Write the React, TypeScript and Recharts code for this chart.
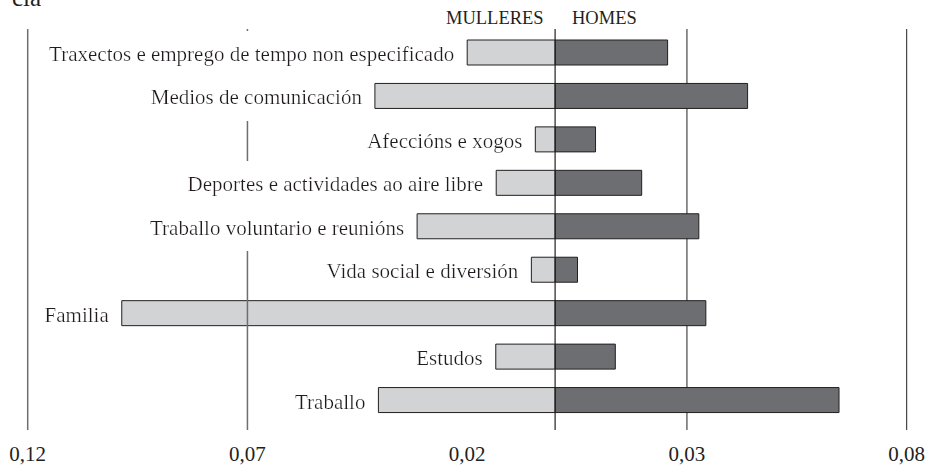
import React from 'react'
import { Bar, BarChart, LabelList, ReferenceLine, XAxis, YAxis } from 'recharts'

const categories = [
  'Traxectos e emprego de tempo non especificado',
  'Medios de comunicación',
  'Afeccións e xogos',
  'Deportes e actividades ao aire libre',
  'Traballo voluntario e reunións',
  'Vida social e diversión',
  'Familia',
  'Estudos',
  'Traballo',
]
const mulleres = [0.02, 0.041, 0.0045, 0.0134, 0.0314, 0.0054, 0.0986, 0.0135, 0.0402]
const homes = [0.0256, 0.0438, 0.0092, 0.0197, 0.0327, 0.0051, 0.0343, 0.0137, 0.0646]
const xTicks = [-0.12, -0.07, -0.02, 0.03, 0.08]
const linesBehind = [0.03, 0.08]
const linesFront = [-0.12, -0.07, 0]

const FONT = 'Liberation Serif'
const INK = '#231f20'

const data = categories.map((name, i) => ({ name, mulleres: -mulleres[i], homes: homes[i] }))

// category name to the left of the women's bar, on a white box
function CategoryLabel(props: any) {
  const vb = props.viewBox && props.viewBox.width !== undefined ? props.viewBox : props
  const x = Number(vb.x)
  const w = Number(vb.width)
  const y = Number(vb.y)
  const h = Number(vb.height)
  const left = Math.min(x, x + w)
  const cy = y + h / 2
  const id = `lbg${props.index}`
  return (
    <g>
      <defs>
        <filter id={id} x="-0.015" y="-0.45" width="1.03" height="1.9">
          <feFlood floodColor="#fff" />
          <feComposite in="SourceGraphic" operator="over" />
        </filter>
      </defs>
      <text
        x={left - 13}
        y={cy + 8.5}
        textAnchor="end"
        fontSize={21}
        fill={INK}
        filter={`url(#${id})`}
        style={{ fontFamily: FONT }}
      >
        {props.value}
      </text>
    </g>
  )
}

export default function App() {
  return (
    <div style={{ position: 'relative', width: 931, height: 468, background: '#fff' }}>
      <style>{'body{margin:0;overflow:hidden;}'}</style>
      <BarChart
        width={931}
        height={468}
        data={data}
        layout="vertical"
        stackOffset="sign"
        margin={{ top: 29, right: 24.3, left: 27.7, bottom: 8 }}
      >
        <XAxis
          type="number"
          domain={[-0.12, 0.08]}
          ticks={xTicks}
          allowDataOverflow
          axisLine={false}
          tickLine={false}
          tickSize={0}
          tickMargin={16}
          height={30}
          interval={0}
          tick={{ fontSize: 21, fill: INK, style: { fontFamily: FONT } }}
          tickFormatter={(v: number) => Math.abs(v).toFixed(2).replace('.', ',')}
        />
        <YAxis type="category" dataKey="name" hide padding={{ top: 2, bottom: 8 }} />
        {linesBehind.map((v) => (
          <ReferenceLine key={v} x={v} stroke={INK} strokeWidth={1} zIndex={250} />
        ))}
        <Bar
          dataKey="homes"
          stackId="a"
          fill="#6d6e71"
          stroke={INK}
          strokeWidth={1}
          barSize={25}
          isAnimationActive={false}
        />
        <Bar
          dataKey="mulleres"
          stackId="a"
          fill="#d1d3d4"
          stroke={INK}
          strokeWidth={1}
          barSize={25}
          isAnimationActive={false}
        >
          <LabelList dataKey="name" content={CategoryLabel} zIndex={2000} />
        </Bar>
        {linesFront.map((v) => (
          <ReferenceLine
            key={v}
            x={v}
            stroke={v === 0 ? INK : '#6d6e71'}
            strokeWidth={v === 0 ? 1.2 : 1.5}
            zIndex={400}
          />
        ))}
      </BarChart>
      <svg width={931} height={468} style={{ position: 'absolute', left: 0, top: 0, pointerEvents: 'none' }}>
        <text x={12} y={6} fontSize={25} fill={INK} style={{ fontFamily: FONT }}>
          cia
        </text>
        <text x={446} y={24.3} fontSize={18.5} fill={INK} style={{ fontFamily: FONT }}>
          MULLERES
        </text>
        <text x={572} y={24.3} fontSize={18.5} fill={INK} style={{ fontFamily: FONT }}>
          HOMES
        </text>
      </svg>
    </div>
  )
}
